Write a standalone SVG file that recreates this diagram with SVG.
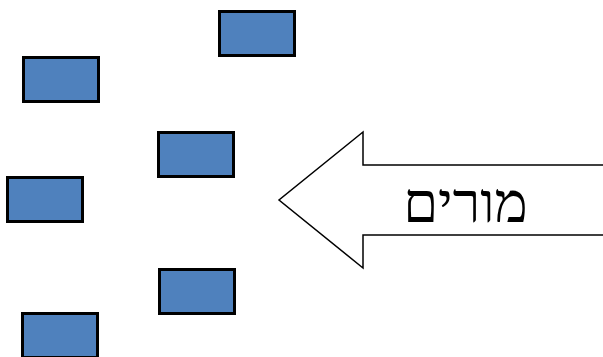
<svg xmlns="http://www.w3.org/2000/svg" width="603" height="357" viewBox="0 0 603 357">
<style>
.box{fill:#4F81BD;stroke:#000;stroke-width:3}
.arrow{fill:#fff;stroke:#000;stroke-width:1.5;stroke-linejoin:miter}
.lbl{font-family:"DejaVu Serif","Liberation Serif",serif;font-size:56px;fill:#000}
</style>
<rect width="603" height="357" fill="#fff"/>
<g id="box1"><rect class="box" x="219.5" y="11.5" width="75" height="44"/></g>
<g id="box2"><rect class="box" x="23.5" y="57.5" width="75" height="44"/></g>
<g id="box3"><rect class="box" x="158.5" y="132.5" width="75" height="44"/></g>
<g id="box4"><rect class="box" x="7.5" y="177.5" width="75" height="44"/></g>
<g id="box5"><rect class="box" x="159.5" y="269.5" width="75" height="44"/></g>
<g id="box6"><rect class="box" x="22.5" y="313.5" width="75" height="44"/></g>
<g id="connectors">
<g id="teachers-arrow">
<path class="arrow" d="M604,165 L363,165 L363,132 L279,200 L363,268 L363,235 L604,235"/>
<text class="lbl" x="465.5" y="222" text-anchor="middle" direction="rtl">מורים</text>
</g>
</g>
</svg>
